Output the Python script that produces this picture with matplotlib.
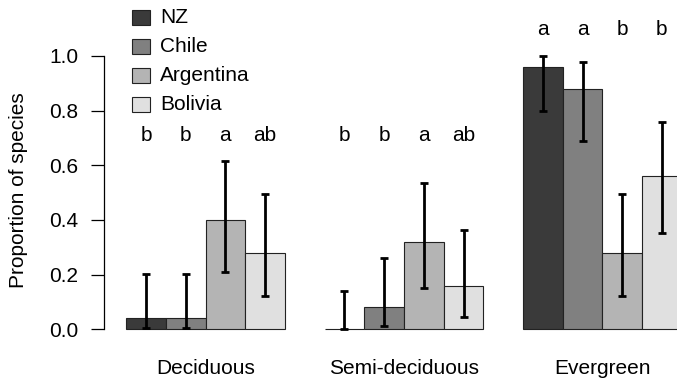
import matplotlib
matplotlib.use("Agg")
import matplotlib.pyplot as plt
from matplotlib.patches import Rectangle
import numpy as np

plt.rcParams['font.family'] = ['Liberation Sans', 'DejaVu Sans']

groups = ["Deciduous", "Semi-deciduous", "Evergreen"]
countries = ["NZ", "Chile", "Argentina", "Bolivia"]
colors = ["#3a3a3a", "#808080", "#b4b4b4", "#e0e0e0"]

values = np.array([
    [0.04, 0.04, 0.40, 0.28],
    [0.00, 0.08, 0.32, 0.16],
    [0.96, 0.88, 0.28, 0.56],
])
lower = np.array([
    [0.003, 0.003, 0.21, 0.12],
    [0.000, 0.012, 0.15, 0.046],
    [0.80, 0.69, 0.12, 0.352],
])
upper = np.array([
    [0.203, 0.203, 0.615, 0.495],
    [0.14, 0.26, 0.536, 0.362],
    [1.00, 0.978, 0.495, 0.758],
])
letters = [
    ["b", "b", "a", "ab"],
    ["b", "b", "a", "ab"],
    ["a", "a", "b", "b"],
]
letter_y = [0.71, 0.71, 1.095]

W, H = 677, 382
fig = plt.figure(figsize=(W / 100, H / 100), dpi=100)

# axes in pixel space
x0_px, x1_px = 104, 704
y_bot_px, y_top_px = 340.2, 45.0
ax = fig.add_axes([x0_px / W, 1 - y_bot_px / H, (x1_px - x0_px) / W, (y_bot_px - y_top_px) / H])
ax.set_xlim(0.44, 15.56)
ax.set_ylim(-0.04, 1.04)

nb = len(countries)
for g in range(len(groups)):
    for i in range(nb):
        left = 1 + (nb + 1) * g + i
        c = left + 0.5
        ax.bar(left, values[g, i], width=1.0, align='edge', color=colors[i],
               edgecolor='#222222', linewidth=0.8, zorder=2)
        lo = max(values[g, i] - lower[g, i], 0)
        hi = max(upper[g, i] - values[g, i], 0)
        ax.errorbar(c, values[g, i], yerr=[[lo], [hi]],
                    fmt='none', ecolor='black', elinewidth=2.0, capsize=3.0,
                    capthick=2.0, zorder=3)
        ax.text(c, letter_y[g], letters[g][i], ha='center', va='center',
                fontsize=15, clip_on=False)
    gc = 1 + (nb + 1) * g + nb / 2
    ax.text(gc, -0.142, groups[g], ha='center', va='center', fontsize=15, clip_on=False)

for s in ['top', 'right', 'bottom']:
    ax.spines[s].set_visible(False)
ax.spines['left'].set_bounds(0, 1)
ax.spines['left'].set_linewidth(0.9)
ax.set_xticks([])
ax.set_yticks([0, 0.2, 0.4, 0.6, 0.8, 1.0])
ax.set_yticklabels(["0.0", "0.2", "0.4", "0.6", "0.8", "1.0"])
ax.tick_params(axis='y', length=9.5, width=0.9, pad=9, labelsize=15)

fig.text(19 / W, 1 - 190 / H, "Proportion of species", rotation=90,
         ha='center', va='center', fontsize=15)

# legend
for i, (lab, col) in enumerate(zip(countries, colors)):
    yc = 17.3 + 29 * i
    fig.add_artist(Rectangle((132 / W, 1 - (yc + 7.5) / H), 18 / W, 15 / H,
                             facecolor=col, edgecolor='#222222', linewidth=0.8,
                             transform=fig.transFigure))
    fig.text(160 / W, 1 - yc / H, lab, ha='left', va='center', fontsize=15)

fig.savefig("out.png", dpi=100)
